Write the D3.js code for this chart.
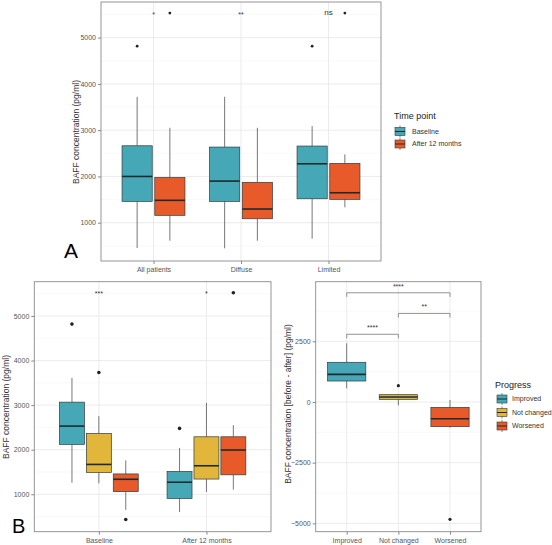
<!DOCTYPE html>
<html><head><meta charset="utf-8">
<script src="https://cdn.jsdelivr.net/npm/d3@7/dist/d3.min.js"></script>
<style>body{margin:0;background:#fff}svg{display:block;font-family:"Liberation Sans",Arial,sans-serif}</style>
</head><body><svg id="c" width="552" height="545"></svg>
<script>
// ---------- Panel A data ----------
const aCategories = ["All patients", "Diffuse", "Limited"];
const aSeries = ["Baseline", "After 12 months"];
// [lower whisker, Q1, median, Q3, upper whisker]
const aBaselineStats = [[454,1462,2000,2663,3721],[447,1462,1900,2635,3721],[654,1518,2274,2657,3089]];
const aAfterStats    = [[611,1160,1484,1978,3052],[611,1086,1296,1873,3052],[1333,1505,1648,2283,2477]];
const aBaselineOutliers = [[4816],[],[4816]];
const aAfterOutliers    = [[5530],[],[5530]];
const aSignif = ["*","**","ns"];
const aSignifY = 5540;
const aTicks = [1000,2000,3000,4000,5000];

// ---------- Panel B (left) data ----------
const bCategories = ["Baseline", "After 12 months"];
const bSeries = ["Improved", "Not changed", "Worsened"];
const bImprovedStats   = [[1260,2120,2530,3067,3612],[601,906,1271,1513,2040]];
const bNotChangedStats = [[1245,1490,1670,2365,2753],[1052,1342,1640,2290,3052]];
const bWorsenedStats   = [[652,1060,1337,1457,1760],[1105,1437,1993,2290,2552]];
const bImprovedOutliers   = [[4818],[2478]];
const bNotChangedOutliers = [[3733],[]];
const bWorsenedOutliers   = [[434],[5521]];
const bSignif = ["***","*"];
const bSignifY = 5540;
const bTicks = [1000,2000,3000,4000,5000];

// ---------- Panel B (right) data ----------
const cCategories = ["Improved", "Not changed", "Worsened"];
const cStats = [[563,865,1140,1636,2418],[-137,110,206,302,330],[-1060,-1016,-687,-220,82]];
const cOutliers = [[],[673],[-4835]];
const cTicks = [-5000,-2500,0,2500];
const cBracketFrom = ["Improved","Not changed","Improved"];
const cBracketTo   = ["Not changed","Worsened","Worsened"];
const cBracketY    = [2790, 3650, 4500];
const cBracketLabel = ["****","**","****"];

const colTeal = "#46a8b7", colOrange = "#e95a2a", colYellow = "#e1b63b";
const svg = d3.select("#c");

function panel(x0, x1, y0, y1, yDomain, cats, ticks, minorStep, opts) {
  const g = svg.append("g");
  const x = d3.scalePoint().domain(cats).range([x0, x1]).padding(0.6);
  const y = d3.scaleLinear().domain(yDomain).range([y1, y0]);
  // minor grid
  const minor = [];
  for (let v = Math.ceil(yDomain[0]/minorStep)*minorStep; v <= yDomain[1]; v += minorStep)
    if (!ticks.includes(v)) minor.push(v);
  g.selectAll(".mg").data(minor).join("line").attr("x1", x0).attr("x2", x1)
    .attr("y1", d => y(d)).attr("y2", d => y(d)).attr("stroke", "#f2f2f2").attr("stroke-width", 0.5);
  g.selectAll(".Mg").data(ticks).join("line").attr("x1", x0).attr("x2", x1)
    .attr("y1", d => y(d)).attr("y2", d => y(d)).attr("stroke", "#e6e6e6").attr("stroke-width", 0.8);
  g.selectAll(".vg").data(cats).join("line").attr("x1", d => x(d)).attr("x2", d => x(d))
    .attr("y1", y0).attr("y2", y1).attr("stroke", "#e6e6e6").attr("stroke-width", 0.8);
  // axes
  const ya = d3.axisLeft(y).tickValues(ticks).tickSize(3).tickPadding(2).tickFormat(d3.format("d"));
  const yg = g.append("g").attr("transform", `translate(${x0},0)`).call(ya);
  const xa = d3.axisBottom(x).tickSize(3).tickPadding(3);
  const xg = g.append("g").attr("transform", `translate(0,${y1})`).call(xa);
  [yg, xg].forEach(a => {
    a.select(".domain").remove();
    a.selectAll("line").attr("stroke", "#555").attr("stroke-width", 0.7);
    a.selectAll("text").attr("fill", "#555").style("font-size", "7px");
  });
  return {g, x, y, border: () => g.append("rect").attr("x", x0).attr("y", y0).attr("width", x1-x0).attr("height", y1-y0)
      .attr("fill", "none").attr("stroke", "#8a8a8a").attr("stroke-width", 0.9)};
}

function boxes(p, cats, stats, outliers, color, offset, w, r) {
  const {g, x, y} = p;
  cats.forEach((c, i) => {
    const s = stats[i], cx = x(c) + offset;
    g.append("line").attr("x1", cx).attr("x2", cx).attr("y1", y(s[0])).attr("y2", y(s[1])).attr("stroke", "#555").attr("stroke-width", 0.8);
    g.append("line").attr("x1", cx).attr("x2", cx).attr("y1", y(s[3])).attr("y2", y(s[4])).attr("stroke", "#555").attr("stroke-width", 0.8);
    g.append("rect").attr("x", cx - w/2).attr("y", y(s[3])).attr("width", w).attr("height", y(s[1]) - y(s[3]))
      .attr("fill", color).attr("stroke", "#2f3b3d").attr("stroke-width", 0.7);
    g.append("line").attr("x1", cx - w/2).attr("x2", cx + w/2).attr("y1", y(s[2])).attr("y2", y(s[2]))
      .attr("stroke", "#1d2b2e").attr("stroke-width", 1.6);
    outliers[i].forEach(o => g.append("circle").attr("cx", cx).attr("cy", y(o)).attr("r", r).attr("fill", "#222"));
  });
}

function legendKey(g, x, y, color) {
  g.append("line").attr("x1", x+5).attr("x2", x+5).attr("y1", y-6).attr("y2", y+6).attr("stroke", "#555").attr("stroke-width", 0.7);
  g.append("rect").attr("x", x).attr("y", y-4).attr("width", 10).attr("height", 8).attr("fill", color).attr("stroke", "#2f3b3d").attr("stroke-width", 0.6);
  g.append("line").attr("x1", x).attr("x2", x+10).attr("y1", y).attr("y2", y).attr("stroke", "#1d2b2e").attr("stroke-width", 1);
}

function yTitle(tx, ty, text) {
  svg.append("text").attr("transform", `translate(${tx},${ty}) rotate(-90)`).attr("text-anchor", "middle")
    .attr("fill", "#333").style("font-size", "8.5px").text(text);
}

// ---------- Panel A ----------
const pA = panel(101, 381, 2, 261, [173, 5770], aCategories, aTicks, 500);
{
  const step = pA.x.step();
  boxes(pA, aCategories, aBaselineStats, aBaselineOutliers, colTeal, -step*0.187, step*0.345, 1.4);
  boxes(pA, aCategories, aAfterStats, aAfterOutliers, colOrange, step*0.187, step*0.345, 1.4);
  aCategories.forEach((c, i) => pA.g.append("text").attr("x", pA.x(c)).attr("y", pA.y(aSignifY)).attr("dy", aSignif[i]==="ns" ? "0.35em" : "0.6em")
    .attr("text-anchor", "middle").attr("fill", "#333").style("font-size", aSignif[i]==="ns" ? "8px" : "7px").text(aSignif[i]));
  pA.border();
  yTitle(79, 132, "BAFF concentration (pg/ml)");
  const lg = svg.append("g");
  lg.append("text").attr("x", 394).attr("y", 119).attr("fill", "#222").style("font-size", "9px").text("Time point");
  [colTeal, colOrange].forEach((c, i) => {
    legendKey(lg, 395, 131.5 + i*12.5, c);
    lg.append("text").attr("x", 412).attr("y", 131.5 + i*12.5).attr("dy", "0.35em").attr("fill", "#333").style("font-size", "7px").text(aSeries[i]);
  });
  svg.append("text").attr("x", 64).attr("y", 258).attr("fill", "#000").style("font-size", "21px").text("A");
}

// ---------- Panel B left ----------
const pB = panel(34.3, 271, 281.7, 531.7, [161, 5769], bCategories, bTicks, 500);
{
  const step = pB.x.step(), off = step*0.25, w = step*0.232;
  boxes(pB, bCategories, bImprovedStats, bImprovedOutliers, colTeal, -off, w, 1.8);
  boxes(pB, bCategories, bNotChangedStats, bNotChangedOutliers, colYellow, 0, w, 1.8);
  boxes(pB, bCategories, bWorsenedStats, bWorsenedOutliers, colOrange, off, w, 1.8);
  bCategories.forEach((c, i) => pB.g.append("text").attr("x", pB.x(c)).attr("y", pB.y(bSignifY)).attr("dy", "0.6em")
    .attr("text-anchor", "middle").attr("fill", "#333").style("font-size", "7px").text(bSignif[i]));
  pB.border();
  yTitle(9, 407, "BAFF concentration (pg/ml)");
  svg.append("text").attr("x", 12).attr("y", 533).attr("fill", "#000").style("font-size", "20px").text("B");
}

// ---------- Panel B right ----------
const pC = panel(315.7, 481, 281.7, 531.7, [-5344, 4957], cCategories, cTicks, 1250);
{
  const step = pC.x.step();
  const cols = [colTeal, colYellow, colOrange];
  cCategories.forEach((c, i) => boxes(pC, [c], [cStats[i]], [cOutliers[i]], cols[i], 0, step*0.74, 1.6));
  cBracketY.forEach((v, i) => {
    const xa = pC.x(cBracketFrom[i]), xb = pC.x(cBracketTo[i]), yy = pC.y(v);
    pC.g.append("path").attr("d", `M${xa},${yy+4}V${yy}H${xb}V${yy+4}`).attr("fill", "none").attr("stroke", "#777").attr("stroke-width", 0.8);
    pC.g.append("text").attr("x", (xa+xb)/2).attr("y", yy - 4).attr("text-anchor", "middle").attr("fill", "#333").style("font-size", "7px").text(cBracketLabel[i]);
  });
  pC.border();
  yTitle(291, 404, "BAFF concentration [before - after] (pg/ml)");
  const lg = svg.append("g");
  lg.append("text").attr("x", 495).attr("y", 388).attr("fill", "#222").style("font-size", "9px").text("Progress");
  cols.forEach((c, i) => {
    legendKey(lg, 497, 399 + i*13.5, c);
    lg.append("text").attr("x", 512).attr("y", 399 + i*13.5).attr("dy", "0.35em").attr("fill", "#333").style("font-size", "7px").text(cCategories[i]);
  });
}
</script></body></html>
